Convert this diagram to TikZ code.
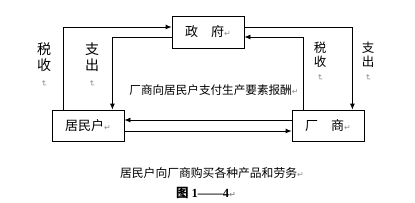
\documentclass[tikz,border=0pt]{standalone}
\usepackage{fontspec}
\setmainfont{Noto Sans CJK SC}
\newfontfamily\symfont{DejaVu Sans}
\newfontfamily\numfont{Liberation Serif}
\usepackage{graphicx}
\usetikzlibrary{arrows.meta,positioning,calc}
\definecolor{markgray}{RGB}{140,140,140}
\newcommand{\retmark}{{\symfont\color{markgray}\fontsize{8}{8}\selectfont ↵}}
\newcommand{\vretmark}{\rotatebox{-90}{\retmark}}

\begin{document}
\begin{tikzpicture}[
    x=1pt, y=-1pt,
    line width=0.8pt,
    sector/.style={rectangle, draw, fill=white, minimum width=72pt, minimum height=31pt, inner sep=0pt, font=\fontsize{13}{15}\selectfont},
    flowlabel/.style={inner sep=0pt, font=\fontsize{11.6}{14}\selectfont},
    vlabel/.style={inner sep=0pt, align=center, anchor=north, font=\fontsize{14}{16}\selectfont},
    vlabelr/.style={vlabel, font=\fontsize{12.5}{13.5}\selectfont},
    arrow/.style={-{Latex[length=6pt,width=5pt]}, line width=0.8pt}
]
    \useasboundingbox (0,0) rectangle (415,202);

    % Sectors
    \node[sector, minimum height=32pt] (gov) at (208,32) {政　府\retmark};
    \node[sector] (hh) at (88,125.5) {居民户\retmark};
    \node[sector] (firm) at (328,125.5) {厂　商\retmark};

    % Government and households
    \draw[arrow] ([xshift=12pt]hh.north west) |- ([yshift=5pt]gov.west);
    \draw[arrow] ([yshift=-5pt]gov.west) -| ([xshift=-12pt]hh.north east);

    % Government and firms
    \draw[arrow] ([yshift=5pt]gov.east) -| ([xshift=-12pt]firm.north east);
    \draw[arrow] ([xshift=12pt]firm.north west) |- ([yshift=-5pt]gov.east);

    % Households and firms
    \draw[arrow] ([yshift=5.5pt]firm.west) -- ([yshift=5.5pt]hh.east);
    \draw[arrow] ([yshift=-5.5pt]hh.east) -- ([yshift=-5.5pt]firm.west);

    % Labels
    \node[vlabel] (taxhh) at (44,42) {税\\收\\[-6pt]\vretmark};
    \node[vlabel] (payhh) at (92,42) {支\\出\\[-6pt]\vretmark};
    \node[vlabelr] (taxfirm) at (320,42) {税\\收\\[-5pt]\vretmark};
    \node[vlabelr] (payfirm) at (368,42) {支\\出\\[-5pt]\vretmark};
    \node[flowlabel] (factor) at (214,90) {厂商向居民户支付生产要素报酬\retmark};
    \node[flowlabel, font=\fontsize{11.8}{14}\selectfont] (goods) at (212,173) {居民户向厂商购买各种产品和劳务\retmark};

    % Caption
    \node[inner sep=0pt, font=\fontsize{12.5}{14}\selectfont\bfseries] (cap) at (206,193) {图 {\numfont 1——4}\retmark};
\end{tikzpicture}
\end{document}
